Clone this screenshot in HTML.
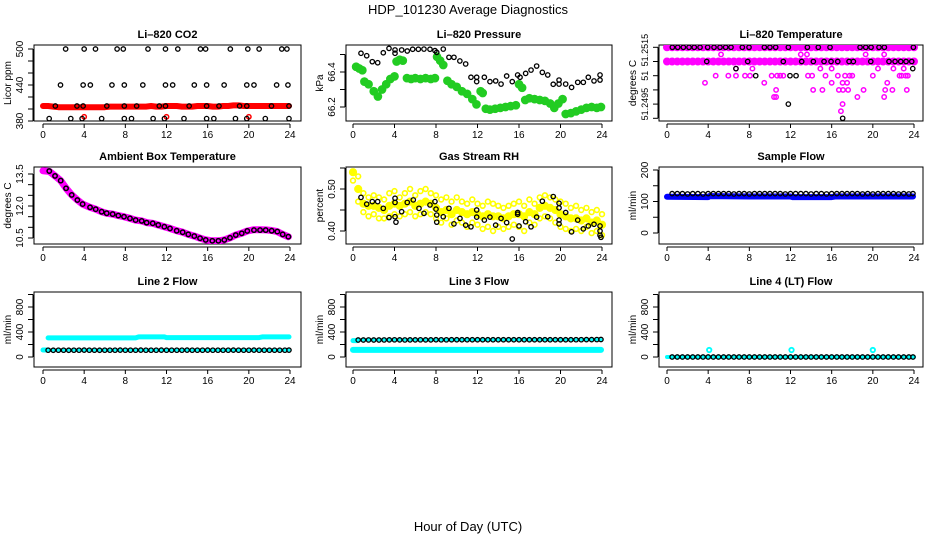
<!DOCTYPE html>
<html><head><meta charset="utf-8"><title>HDP_101230 Average Diagnostics</title>
<style>
html,body{margin:0;padding:0;background:#fff;}
svg{display:block;font-family:"Liberation Sans",sans-serif;}
</style></head>
<body>
<svg id="chart" width="936" height="540" viewBox="0 0 936 540" xmlns="http://www.w3.org/2000/svg">
<rect x="0" y="0" width="936" height="540" fill="#fff"/>
<text x="468" y="14" text-anchor="middle" font-size="13">HDP_101230  Average Diagnostics</text>
<text x="468" y="531" text-anchor="middle" font-size="13">Hour of Day (UTC)</text>
</svg>
<script>
// ---------------- data ----------------
const xTicks = [0,4,8,12,16,20,24];
const halfHours = [0,0.5,1,1.5,2,2.5,3,3.5,4,4.5,5,5.5,6,6.5,7,7.5,8,8.5,9,9.5,10,10.5,11,11.5,12,12.5,13,13.5,14,14.5,15,15.5,16,16.5,17,17.5,18,18.5,19,19.5,20,20.5,21,21.5,22,22.5,23,23.5,24];
const flowHours = [0.5,1,1.5,2,2.5,3,3.5,4,4.5,5,5.5,6,6.5,7,7.5,8,8.5,9,9.5,10,10.5,11,11.5,12,12.5,13,13.5,14,14.5,15,15.5,16,16.5,17,17.5,18,18.5,19,19.5,20,20.5,21,21.5,22,22.5,23,23.5,23.9];

// CO2
const co2BlackHours = [2.2,4.0,5.1,7.2,7.8,10.2,11.9,13.1,15.3,15.8,18.2,19.9,21.0,23.2,23.7, 1.7,3.9,4.6,6.7,7.9,9.7,11.9,12.6,14.7,15.9,17.6,19.8,20.5,22.7,23.8, 1.2,3.3,3.9,6.2,7.9,9.1,11.3,11.9,14.2,15.9,17.1,19.1,19.8,22.2,23.9, 0.6,2.7,3.8,5.7,7.9,8.6,10.7,11.8,13.7,15.9,16.6,18.7,19.8,21.6,23.9];
const co2BlackVals = [500,500,500,500,500,500,500,500,500,500,500,500,500,500,500, 440,440,440,440,440,440,440,440,440,440,440,440,440,440,440, 405,405,405,405,405,405,405,405,405,405,405,405,405,405,405, 384,384,384,384,384,384,384,384,384,384,384,384,384,384,384];
const co2RedVals = [405,405,404,403,403,403,403,403,403,403,403,403,403,404,404,404,404,404,404,404,404,405,404,404,405,405,405,404,404,404,405,405,405,404,404,405,405,406,406,405,405,405,405,405,405,405,405,405,405];
const co2RedOutHours = [4.0,12.0,20.0];
const co2RedOutVals = [387,387,387];

// Pressure
const presBlackHours = [0.77,1.32,1.86,2.38,2.92,3.47,4.05,4.05,4.69,5.23,5.75,6.3,6.84,7.42,7.9,8.07,8.7,9.25,9.73,10.3,10.86,11.37,11.92,11.92,12.66,13.2,13.75,14.27,14.81,15.35,15.87,16.1,16.64,17.16,17.7,18.25,18.77,19.3,19.86,19.86,20.5,21.07,21.66,22.2,22.68,23.23,23.81,23.81];
const presBlackVals = [66.507,66.493,66.459,66.453,66.51,66.535,66.526,66.507,66.526,66.52,66.53,66.53,66.531,66.53,66.522,66.512,66.531,66.484,66.484,66.463,66.446,66.37,66.37,66.345,66.37,66.345,66.349,66.331,66.377,66.345,66.383,66.37,66.392,66.411,66.434,66.398,66.383,66.33,66.331,66.354,66.331,66.312,66.341,66.341,66.37,66.349,66.383,66.354];
const presGreenHours = [0.3,0.6,0.9,1.1,1.5,2.0,2.4,2.8,3.2,3.6,4.0,4.2,4.5,4.8,5.2,5.6,6.0,6.5,7.0,7.5,7.9,8.1,8.4,8.7,9.1,9.5,10.0,10.5,11.0,11.5,11.9,12.3,12.5,12.8,13.2,13.7,14.2,14.7,15.2,15.7,16.0,16.3,16.6,17.0,17.5,18.0,18.5,19.0,19.4,19.8,20.2,20.5,21.0,21.5,22.0,22.5,23.0,23.5,23.9];
const presGreenVals = [66.43,66.42,66.41,66.345,66.33,66.29,66.26,66.30,66.33,66.36,66.375,66.46,66.47,66.465,66.365,66.36,66.365,66.36,66.365,66.36,66.365,66.487,66.465,66.44,66.35,66.33,66.315,66.29,66.275,66.245,66.215,66.29,66.28,66.19,66.185,66.19,66.195,66.2,66.205,66.21,66.33,66.31,66.24,66.25,66.245,66.24,66.235,66.22,66.195,66.22,66.245,66.16,66.165,66.175,66.185,66.195,66.2,66.195,66.2];

// Li-820 temperature
const tempBlackHours = [0.52,1.04,1.59,2.14,2.65,3.21,3.95,4.57,5.15,5.7,6.22,7.32,7.97,9.46,10.0,10.56,11.79,13.64,14.7,15.84,18.76,19.31,19.83,20.6,21.12,23.94, 3.86,7.84,11.3,13.09,14.22,15.26,15.94,16.59,17.69,18.11,19.8,21.57,22.16,22.71,23.23,23.78, 6.7,23.88, 8.62,11.95,12.54, 11.79, 17.07];
const tempBlackVals = [51.2515,51.2515,51.2515,51.2515,51.2515,51.2515,51.2515,51.2515,51.2515,51.2515,51.2515,51.2515,51.2515,51.2515,51.2515,51.2515,51.2515,51.2515,51.2515,51.2515,51.2515,51.2515,51.2515,51.2515,51.2515,51.2515, 51.251,51.251,51.251,51.251,51.251,51.251,51.251,51.251,51.251,51.251,51.251,51.251,51.251,51.251,51.251,51.251, 51.25075,51.25075, 51.2505,51.2505,51.2505, 51.2495, 51.249];
const tempMagTopVals = [51.2515,51.2515,51.2515,51.2515,51.2515,51.2515,51.2515,51.2515,51.2515,51.2515,51.2515,51.2515,51.2515,51.2515,51.2515,51.2515,51.2515,51.2515,51.2515,51.2515,51.2515,51.2515,51.2515,51.2515,51.2515,51.2515,51.2515,51.2515,51.2515,51.2515,51.2515,51.2515,51.2515,51.2515,51.2515,51.2515,51.2515,51.2515,51.2515,51.2515,51.2515,51.2515,51.2515,51.2515,51.2515,51.2515,51.2515,51.2515,51.2515];
const tempMagSecondVals = [51.251,51.251,51.251,51.251,51.251,51.251,51.251,51.251,51.251,51.251,51.251,51.251,51.251,51.251,51.251,51.251,51.251,51.251,51.251,51.251,51.251,51.251,51.251,51.251,51.251,51.251,51.251,51.251,51.251,51.251,51.251,51.251,51.251,51.251,51.251,51.251,51.251,51.251,51.251,51.251,51.251,51.251,51.251,51.251,51.251,51.251,51.251,51.251,51.251];
const tempMagHours = [5.25,13.0,13.6,19.3,21.1, 6.7,8.3,14.9,16.0,20.5,22.0,23.0, 4.73,5.96,6.7,7.58,8.07,10.17,10.7,11.0,11.3,13.7,14.1,15.4,16.6,17.3,17.75,18.0,20.0,22.6,22.8,23.2,23.4, 3.69,9.45,16.0,17.06,17.5,21.4, 10.6,14.2,15.1,16.7,17.1,17.6,19.1,21.2,21.9,23.3, 10.4,10.6,18.5,21.1, 17.06,16.9];
const tempMagVals = [51.25125,51.25125,51.25125,51.25125,51.25125, 51.25075,51.25075,51.25075,51.25075,51.25075,51.25075,51.25075, 51.2505,51.2505,51.2505,51.2505,51.2505,51.2505,51.2505,51.2505,51.2505,51.2505,51.2505,51.2505,51.2505,51.2505,51.2505,51.2505,51.2505,51.2505,51.2505,51.2505,51.2505, 51.25025,51.25025,51.25025,51.25025,51.25025,51.25025, 51.25,51.25,51.25,51.25,51.25,51.25,51.25,51.25,51.25,51.25, 51.24975,51.24975,51.24975,51.24975, 51.2495,51.24925];

// Ambient box temperature
const ambHours = [0.61,1.17,1.72,2.24,2.79,3.34,3.85,4.57,5.12,5.7,6.19,6.77,7.32,7.87,8.45,9.0,9.59,10.07,10.66,11.2,11.79,12.34,12.99,13.57,14.12,14.7,15.26,15.81,16.45,17.04,17.62,18.17,18.73,19.31,19.85,20.5,21.09,21.64,22.22,22.77,23.29,23.84];
const ambVals = [13.64,13.41,13.19,12.83,12.52,12.28,12.09,11.94,11.85,11.73,11.66,11.62,11.55,11.5,11.42,11.34,11.3,11.22,11.19,11.11,11.03,10.95,10.84,10.77,10.67,10.59,10.49,10.41,10.37,10.37,10.41,10.51,10.64,10.72,10.83,10.87,10.87,10.87,10.84,10.8,10.67,10.56];
const ambMagHours = [0,0.61,1.17,1.72,2.24,2.79,3.34,3.85,4.57,5.12,5.7,6.19,6.77,7.32,7.87,8.45,9.0,9.59,10.07,10.66,11.2,11.79,12.34,12.99,13.57,14.12,14.7,15.26,15.81,16.45,17.04,17.62,18.17,18.73,19.31,19.85,20.5,21.09,21.64,22.22,22.77,23.29,23.84];
const ambMagVals = [13.65,13.62,13.41,13.19,12.83,12.52,12.28,12.09,11.94,11.85,11.73,11.66,11.62,11.55,11.5,11.42,11.34,11.3,11.22,11.19,11.11,11.03,10.95,10.84,10.77,10.67,10.59,10.49,10.41,10.37,10.37,10.41,10.51,10.64,10.72,10.83,10.89,10.89,10.88,10.85,10.8,10.67,10.56];

// Gas stream RH
const rhBlackHours = [0.77,1.32,1.86,2.38,2.92,3.47,4.05,4.05,4.05,4.14,4.69,5.23,5.81,6.36,6.84,7.42,7.9,8.0,8.07,8.07,8.7,9.25,9.73,10.31,10.86,11.37,11.92,11.92,12.66,13.2,13.75,14.27,14.81,15.35,15.87,15.87,16.0,16.64,17.16,17.7,18.25,18.77,19.3,19.86,19.86,19.86,19.86,20.5,21.07,21.66,22.2,22.68,23.23,23.81,23.81,23.81,23.9];
const rhBlackVals = [0.480,0.464,0.470,0.470,0.454,0.432,0.434,0.478,0.468,0.421,0.446,0.468,0.474,0.454,0.442,0.462,0.470,0.452,0.438,0.421,0.434,0.454,0.417,0.430,0.414,0.410,0.450,0.433,0.426,0.433,0.414,0.430,0.420,0.381,0.444,0.440,0.412,0.422,0.410,0.433,0.471,0.434,0.482,0.466,0.455,0.426,0.417,0.444,0.398,0.426,0.405,0.412,0.416,0.412,0.400,0.390,0.385];
const rhYellowHi = [0.56,0.53,0.49,0.48,0.485,0.48,0.475,0.49,0.495,0.48,0.49,0.50,0.485,0.495,0.50,0.49,0.485,0.475,0.48,0.47,0.48,0.47,0.465,0.475,0.465,0.46,0.47,0.465,0.46,0.455,0.46,0.465,0.47,0.46,0.475,0.465,0.48,0.485,0.48,0.475,0.47,0.465,0.455,0.46,0.45,0.455,0.445,0.45,0.44];
const rhYellowMid = [0.54,0.50,0.465,0.46,0.46,0.455,0.45,0.46,0.465,0.46,0.465,0.47,0.46,0.465,0.47,0.465,0.455,0.445,0.45,0.44,0.45,0.445,0.44,0.445,0.44,0.435,0.44,0.435,0.435,0.43,0.435,0.44,0.44,0.435,0.445,0.44,0.455,0.46,0.455,0.45,0.44,0.435,0.43,0.43,0.425,0.43,0.42,0.425,0.415];
const rhYellowLo = [0.52,0.47,0.445,0.435,0.44,0.43,0.43,0.435,0.44,0.435,0.44,0.445,0.435,0.44,0.445,0.44,0.43,0.42,0.43,0.415,0.425,0.42,0.41,0.42,0.415,0.405,0.41,0.40,0.41,0.405,0.41,0.415,0.41,0.40,0.42,0.415,0.43,0.435,0.43,0.42,0.41,0.405,0.40,0.405,0.40,0.41,0.395,0.40,0.39];

// Flows
const sampleBlackVals = [125,125,125,124,125,125,124,125,125,125,125,125,124,125,125,124,125,125,125,125,125,125,124,125,125,125,125,124,125,125,124,125,125,125,125,125,125,124,125,124,125,125,125,125,124,125,124,125];
const sampleBandHours = [0,4,4.1,8,8.2,12,12.2,16,16.3,20,20.2,23.9];
const sampleBandVals = [115,114,117,116,116,116,114,114,116,116,116,116];
const line2BlackVals = [109,108,109,109,108,109,109,110,109,109,108,109,109,109,110,109,109,109,110,109,109,109,110,109,109,109,109,110,109,109,109,110,109,109,109,109,110,109,109,109,110,109,109,109,109,109,109,110];
const line2BandHours = [0.5,9.0,9.3,11.8,12.0,21.0,21.3,23.9];
const line2BandVals = [306,306,322,322,310,310,322,322];
const line2LowHours = [0,0.5];
const line2LowVals = [112,112];
const line3BlackVals = [272,272,273,272,272,273,274,275,274,273,274,274,275,274,274,276,275,275,276,276,276,276,276,276,276,276,276,276,276,276,276,276,276,276,276,276,276,276,276,276,276,276,277,277,278,278,279,280];
const line3BandHours = [0,6,12,18,23.9];
const line3BandVals = [114,114,114,114,114];
const line3HighHours = [0,0.4];
const line3HighVals = [262,262];
const line4BlackVals = [0,0,0,0,0,0,0,0,0,0,0,0,0,0,0,0,0,0,0,0,0,0,0,0,0,0,0,0,0,0,0,0,0,0,0,0,0,0,0,0,0,0,0,0,0,0,0,0];
const line4BandHours = [0,24];
const line4BandVals = [0,0];
const line4SpikeHours = [4.1,12.1,20.0];
const line4SpikeVals = [112,112,112];

// ---------------- drawing ----------------
const NS = 'http://www.w3.org/2000/svg';
const svg = document.getElementById('chart');
function mk(tag, attrs, parent){
  const e = document.createElementNS(NS, tag);
  for (const k in attrs) e.setAttribute(k, attrs[k]);
  (parent||svg).appendChild(e);
  return e;
}
const cols = [{l:34,r:301,x0:43,x24:290},{l:346,r:612,x0:353,x24:602},{l:659,r:923,x0:667,x24:914}];
const rows = [{t:45,b:121},{t:167,b:244},{t:292,b:367}];

function makePanel(p){
  const c = cols[p.col], rw = rows[p.row];
  const g = mk('g', {});
  
  
  const xs = h => c.x0 + (h/24)*(c.x24-c.x0);
  const ys = v => p.p1 + (v-p.v1)*(p.p2-p.p1)/(p.v2-p.v1);
  const box = mk('rect', {x:c.l, y:rw.t, width:c.r-c.l, height:rw.b-rw.t, fill:'none', stroke:'#000', 'stroke-width':1}, g);
  
  
  const title = mk('text', {x:(c.l+c.r)/2, y:rw.t-7, 'text-anchor':'middle', 'font-size':11, 'font-weight':'bold'}, g);
  title.textContent = p.title;
  
  
  const xa = mk('g', {}, g);
  
  
  mk('line', {x1:xs(0), x2:xs(24), y1:rw.b+3, y2:rw.b+3, stroke:'#000'}, xa);
  xTicks.forEach(t => {
    mk('line', {x1:xs(t), x2:xs(t), y1:rw.b+3, y2:rw.b+7, stroke:'#000'}, xa);
    const tl = mk('text', {x:xs(t), y:rw.b+17, 'text-anchor':'middle', 'font-size':10}, xa);
    tl.textContent = t;
    
    
  });
  const ya = mk('g', {}, g);
  
  
  const ax = c.l - 1;
  mk('line', {x1:ax, x2:ax, y1:ys(p.yTicks[0]), y2:ys(p.yTicks[p.yTicks.length-1]), stroke:'#000'}, ya);
  p.yTicks.forEach(t => mk('line', {x1:ax-5, x2:ax, y1:ys(t), y2:ys(t), stroke:'#000'}, ya));
  p.yLabelVals.forEach((t,i) => {
    const lx = c.l - 11, ly = ys(t);
    const tl = mk('text', {x:lx, y:ly, 'text-anchor':'middle', 'font-size':p.tickFont||10, transform:`rotate(-90 ${lx} ${ly})`}, ya);
    tl.textContent = p.yLabels[i];
    
    
  });
  const yt = mk('text', {x:c.l-23, y:(rw.t+rw.b)/2, 'text-anchor':'middle', 'font-size':10, transform:`rotate(-90 ${c.l-23} ${(rw.t+rw.b)/2})`}, ya);
  yt.textContent = p.ylab;
  
  
  const clip = mk('clipPath', {id:'clip-'+p.name}, g);
  mk('rect', {x:c.l, y:rw.t, width:c.r-c.l, height:rw.b-rw.t}, clip);
  const data = mk('g', {'clip-path':`url(#clip-${p.name})`}, g);
  
  
  return {xs, ys, g:data, name:p.name};
}
function pts(P, hours, vals, color, r, sw, label, fill){
  const n = Math.min(hours.length, vals.length);
  for (let i=0;i<n;i++){
    const c = mk('circle', {cx:P.xs(hours[i]), cy:P.ys(vals[i]), r:r, fill:fill||'none', stroke:color, 'stroke-width':sw}, P.g);
    
    
  }
}
function band(P, hours, vals, color, w, label){
  const n = Math.min(hours.length, vals.length);
  let d = '';
  for (let i=0;i<n;i++) d += (i?'L':'M') + P.xs(hours[i]).toFixed(1) + ' ' + P.ys(vals[i]).toFixed(1);
  const e = mk('path', {d:d, fill:'none', stroke:color, 'stroke-width':w, 'stroke-linejoin':'round', 'stroke-linecap':'round'}, P.g);
  
  
}
const R = 2.2, SW = 1.3;

let P = makePanel({name:'co2', title:'Li\u2013820 CO2', ylab:'Licor ppm', col:0,row:0, v1:500,p1:49, v2:380,p2:121,
  yTicks:[380,400,420,440,460,480,500], yLabelVals:[380,440,500], yLabels:['380','440','500']});
band(P, halfHours.slice(0,48).concat([23.9]), co2RedVals, '#ff0000', 6, 'co2-red-band');
pts(P, co2RedOutHours, co2RedOutVals, '#ff0000', R, 1.5, 'co2-red-outlier');
pts(P, co2BlackHours, co2BlackVals, '#000', R, SW, 'co2-black-point');

P = makePanel({name:'pressure', title:'Li\u2013820 Pressure', ylab:'kPa', col:1,row:0, v1:66.4,p1:72, v2:66.2,p2:107,
  yTicks:[66.2,66.3,66.4,66.5], yLabelVals:[66.2,66.4], yLabels:['66.2','66.4']});
pts(P, presGreenHours, presGreenVals, '#22cc22', 3.6, 1.5, 'pressure-green-point', '#22cc22');
pts(P, presBlackHours, presBlackVals, '#000', R, SW, 'pressure-black-point');

P = makePanel({name:'li820-temp', title:'Li\u2013820 Temperature', ylab:'degrees C', col:2,row:0, v1:51.2515,p1:47.3, v2:51.249,p2:118.3, tickFont:9,
  yTicks:[51.249,51.2495,51.25,51.2505,51.251,51.2515], yLabelVals:[51.2495,51.2505,51.2514], yLabels:['51.2495','51','51.2515']});
pts(P, halfHours, tempMagTopVals, '#ff00ff', 3, 2, 'temp-magenta-top', '#ff00ff');
pts(P, halfHours, tempMagSecondVals, '#ff00ff', 3, 2, 'temp-magenta-second', '#ff00ff');
pts(P, tempMagHours, tempMagVals, '#ff00ff', R, 1.5, 'temp-magenta-point');
pts(P, tempBlackHours, tempBlackVals, '#000', R, SW, 'temp-black-point');

P = makePanel({name:'ambient-temp', title:'Ambient Box Temperature', ylab:'degrees C', col:0,row:1, v1:13.5,p1:174, v2:10.5,p2:238,
  yTicks:[10.5,11,11.5,12,12.5,13,13.5], yLabelVals:[10.5,12,13.5], yLabels:['10.5','12.0','13.5']});
band(P, ambMagHours, ambMagVals, '#ff00ff', 7, 'ambient-magenta-band');
pts(P, ambHours, ambVals, '#000', R, 1.5, 'ambient-black-point');

P = makePanel({name:'rh', title:'Gas Stream RH', ylab:'percent', col:1,row:1, v1:0.5,p1:189, v2:0.4,p2:231,
  yTicks:[0.4,0.45,0.5,0.55], yLabelVals:[0.4,0.5], yLabels:['0.40','0.50']});
pts(P, halfHours, rhYellowHi, '#ffff00', 2.4, 1.6, 'rh-yellow-point');
pts(P, halfHours, rhYellowMid, '#ffff00', 3, 2.2, 'rh-yellow-point', '#ffff00');
pts(P, halfHours, rhYellowLo, '#ffff00', 2.4, 1.6, 'rh-yellow-point');
pts(P, rhBlackHours, rhBlackVals, '#000', R, SW, 'rh-black-point');

P = makePanel({name:'sample-flow', title:'Sample Flow', ylab:'ml/min', col:2,row:1, v1:200,p1:170, v2:0,p2:233,
  yTicks:[0,50,100,150,200], yLabelVals:[0,100,200], yLabels:['0','100','200']});
band(P, sampleBandHours, sampleBandVals, '#0000ff', 6, 'sample-blue-band');
pts(P, flowHours, sampleBlackVals, '#000', R, SW, 'sample-black-point');

P = makePanel({name:'line2-flow', title:'Line 2 Flow', ylab:'ml/min', col:0,row:2, v1:800,p1:307, v2:0,p2:357,
  yTicks:[0,200,400,600,800,1000], yLabelVals:[0,400,800], yLabels:['0','400','800']});
band(P, line2BandHours, line2BandVals, '#00ffff', 5, 'line2-cyan-band');
band(P, line2LowHours, line2LowVals, '#00ffff', 5, 'line2-cyan-low');
band(P, [0.5,23.9], [110,110], '#00ffff', 3, 'line2-cyan-under');
pts(P, flowHours, line2BlackVals, '#000', R, SW, 'line2-black-point');

P = makePanel({name:'line3-flow', title:'Line 3 Flow', ylab:'ml/min', col:1,row:2, v1:800,p1:307, v2:0,p2:357,
  yTicks:[0,200,400,600,800,1000], yLabelVals:[0,400,800], yLabels:['0','400','800']});
band(P, line3BandHours, line3BandVals, '#00ffff', 6, 'line3-cyan-band');
band(P, line3HighHours, line3HighVals, '#00ffff', 5, 'line3-cyan-high');
band(P, [0.5,23.9], [274,278], '#00ffff', 3, 'line3-cyan-under');
pts(P, flowHours, line3BlackVals, '#000', R, SW, 'line3-black-point');

P = makePanel({name:'line4-flow', title:'Line 4 (LT) Flow', ylab:'ml/min', col:2,row:2, v1:800,p1:307, v2:0,p2:357,
  yTicks:[0,200,400,600,800,1000], yLabelVals:[0,400,800], yLabels:['0','400','800']});
band(P, line4BandHours, line4BandVals, '#00ffff', 4, 'line4-cyan-band');
pts(P, flowHours, line4BlackVals, '#000', R, SW, 'line4-black-point');
pts(P, line4SpikeHours, line4SpikeVals, '#00ffff', R, 1.8, 'line4-cyan-spike');
</script>
</body></html>
